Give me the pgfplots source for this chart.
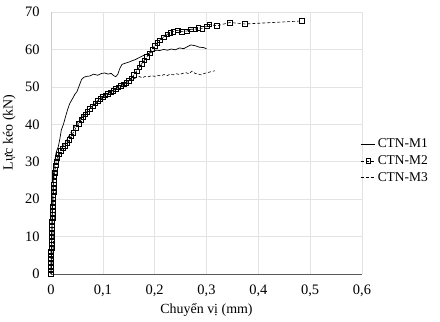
\documentclass[border=0pt]{standalone}
\usepackage{fontspec}
\setmainfont{Liberation Serif}
\usepackage{pgfplots}
\pgfplotsset{compat=1.18}
\begin{document}
\fontsize{12.5}{15}\selectfont
\begin{tikzpicture}
\begin{axis}[
  scale only axis, width=311bp, height=262bp,
  xmin=0, xmax=0.6, ymin=0, ymax=70,
  xtick={0,0.1,0.2,0.3,0.4,0.5,0.6},
  ytick={0,10,20,30,40,50,60,70},
  /pgf/number format/assume math mode=true,
  /pgf/number format/use comma,
  /pgf/number format/fixed,
  grid=major,
  grid style={gray!22, line width=0.6pt},
  axis x line=bottom, axis y line=left,
  x axis line style={gray!70!black, line width=0.8pt, -},
  y axis line style={gray!40, line width=0.6pt, -},
  major tick length=0pt,
  xticklabel style={yshift=-7bp},
  yticklabel style={xshift=-7bp},
  xlabel={Chuyển vị (mm)}, ylabel={Lực kéo (kN)},
  xlabel style={yshift=2bp},
  ylabel style={at={(ticklabel cs:0.54)}, yshift=1bp},
  tick label style={font=\fontsize{14.5}{16}\selectfont},
  label style={font=\fontsize{14}{16}\selectfont},
  legend style={at={(rel axis cs:0.994,0.432)}, anchor=west, draw=none, fill=none,
    font=\fontsize{13.5}{16}\selectfont, row sep=2bp, inner sep=0pt},
  legend cell align=left,
  legend image code/.code={\draw[mark repeat=2,mark phase=2,#1] plot coordinates {(0cm,0cm) (0.26cm,0cm) (0.52cm,0cm)};},
  clip=false,
]
\coordinate (bl) at (rel axis cs:0,0);
\addplot[black, line width=0.7pt] coordinates {
(0,0) (0.001,5) (0.002,12) (0.003,18) (0.004,23) (0.005,27) (0.007,30) (0.010,32.5)
(0.014,34) (0.017,36) (0.020,38.5) (0.024,40) (0.027,41.5) (0.030,43) (0.033,44.3)
(0.036,45.5) (0.040,46.5) (0.043,47.2) (0.046,48) (0.050,48.7) (0.055,50.5) (0.059,52)
(0.064,52.6) (0.069,52.8) (0.075,52.9) (0.082,53.4) (0.090,53.1) (0.098,53.6) (0.104,53.7)
(0.110,53.4) (0.116,53.6) (0.121,53.0) (0.125,52.7) (0.129,53.4) (0.133,55.0) (0.137,56.0) (0.143,56.3)
(0.150,56.6) (0.157,57.0) (0.163,57.3) (0.170,57.8) (0.177,58.3) (0.184,58.7) (0.190,59.0)
(0.197,59.5) (0.203,59.8) (0.210,59.7) (0.217,60.0) (0.225,59.8) (0.232,60.1) (0.240,59.9)
(0.248,60.4) (0.256,60.2) (0.264,60.8) (0.270,61.2) (0.278,61.0) (0.286,60.6) (0.294,60.5) (0.300,60.2)
};
\addlegendentry{CTN-M1}
\addplot[black, line width=0.6pt, dash pattern=on 3pt off 2pt, mark=square, mark size=2.3pt,
  mark options={solid, line width=0.5pt, fill=white}] coordinates {
(0,0) (0,1) (0,2) (0,3) (0,4) (0,5) (0,6) (0.001,7) (0.001,8) (0.001,9) (0.001,10) (0.001,11)
(0.002,12) (0.002,13) (0.002,14) (0.003,15) (0.003,16) (0.003,17) (0.003,18) (0.004,19)
(0.004,20) (0.004,21) (0.005,22) (0.005,23) (0.005,24) (0.006,25) (0.006,26) (0.007,27)
(0.008,28) (0.009,29) (0.010,30) (0.012,31) (0.015,32) (0.019,33) (0.023,33.6) (0.027,34.2)
(0.031,35.0) (0.035,35.8) (0.039,36.8) (0.043,37.8) (0.048,39) (0.053,40.2) (0.058,41.2)
(0.062,42) (0.066,42.7) (0.070,43.3) (0.075,44.1) (0.080,44.8) (0.085,45.6) (0.090,46.3)
(0.095,46.9) (0.100,47.3) (0.105,47.8) (0.110,48.2) (0.115,48.6) (0.120,49.0) (0.125,49.5)
(0.130,49.9) (0.135,50.3) (0.140,50.7) (0.145,51.1) (0.150,51.6)
(0.155,52.3) (0.160,53.2) (0.165,54.2) (0.170,55.2) (0.175,56.2) (0.180,57.1) (0.185,58.0)
(0.190,59) (0.195,60) (0.200,61.0) (0.205,61.8) (0.210,62.5) (0.217,63.3) (0.224,64.0)
(0.230,64.5) (0.236,64.8) (0.244,65.1) (0.252,64.8) (0.262,64.9) (0.270,65.4) (0.278,65.4)
(0.284,65.8) (0.292,65.6) (0.300,66.2) (0.305,66.7) (0.320,66.3) (0.345,67.2) (0.374,66.8) (0.484,67.6)
};
\addlegendentry{CTN-M2}
\addplot[black, line width=0.6pt, dash pattern=on 3pt off 2pt] coordinates {
(0,0) (0.002,3) (0.004,6) (0.005,9) (0.006,12) (0.007,15) (0.008,18) (0.009,21) (0.010,24)
(0.011,26) (0.012,28) (0.014,30) (0.016,31.5) (0.019,33) (0.023,34.2) (0.028,35.2) (0.033,36.5)
(0.038,37.8) (0.043,38.8) (0.048,39.8) (0.053,40.8) (0.058,41.7) (0.063,42.5) (0.068,43.2)
(0.074,44.1) (0.080,44.9) (0.086,45.7) (0.092,46.4) (0.098,47.0) (0.104,47.6) (0.110,48.2)
(0.116,48.7) (0.122,49.2) (0.128,49.7) (0.134,50.2) (0.140,50.7) (0.146,51.2) (0.152,51.7)
(0.158,52.1) (0.164,52.4) (0.170,52.8) (0.176,52.4) (0.182,52.8) (0.188,52.7) (0.194,53.0)
(0.200,52.8) (0.206,53.1) (0.212,52.9) (0.218,53.3) (0.224,53.0) (0.230,53.4) (0.236,53.2)
(0.242,53.5) (0.248,53.3) (0.254,53.6) (0.260,53.8) (0.266,53.5) (0.272,54.2) (0.278,53.6)
(0.284,53.4) (0.290,53.2) (0.296,53.6) (0.302,53.8) (0.310,54.1) (0.316,54.3)
};
\addlegendentry{CTN-M3}
\end{axis}
\pgfresetboundingbox
\path (bl) ++(-51bp,-48bp) rectangle ++(440bp,322bp);
\end{tikzpicture}
\end{document}
